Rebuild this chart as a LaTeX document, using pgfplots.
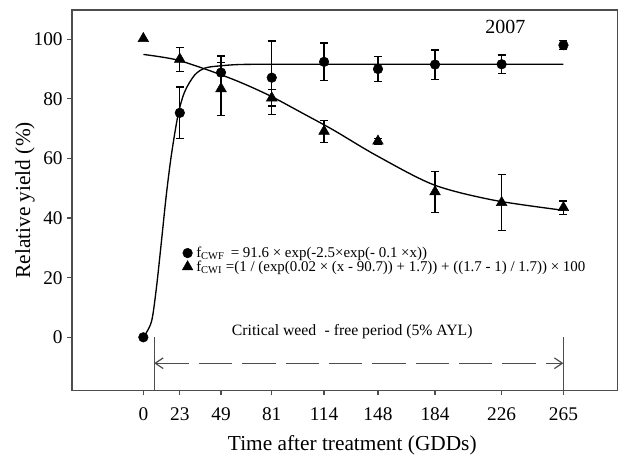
\documentclass[border=0pt]{standalone}
\usepackage{fontspec}
\setmainfont{Liberation Serif}
\usepackage{pgfplots}
\usepackage{pgfplotstable}
\pgfplotsset{compat=1.18}
\usetikzlibrary{arrows.meta}

% weed-free (CWF) and weed-infested (CWI) relative yield, with error
\pgfplotstableread{
x    y     e
0    0.0   0
23   75.3  8.7
49   88.8  5.6
81   87.1  12.3
114  92.4  6.3
148  90.0  4.2
184  91.5  4.9
226  91.6  3.1
265  98.0  1.5
}\cwf

\pgfplotstableread{
x    y     e
23   93.3  4.0
49   83.4  8.9
81   80.3  2.7
114  69.1  3.7
148  65.8  1.0
184  48.8  6.9
226  45.2  9.4
265  43.5  2.2
}\cwi

\definecolor{axisgray}{HTML}{4D4D4D}

\begin{document}
\begin{tikzpicture}
\useasboundingbox (-54pt,-49.7pt) rectangle (414pt,293pt);
\begin{axis}[
    scale only axis,
    width=409pt,
    height=285.5pt,
    xmin=-45, xmax=299,
    ymin=-17.9, ymax=109.8,
    xtick={0,23,49,81,114,148,184,226,265},
    ytick={0,20,40,60,80,100},
    xtick pos=bottom, ytick pos=left,
    tick align=outside,
    major tick length=3.5pt,
    axis line style={draw=axisgray, line width=1.1pt},
    tick style={draw=axisgray, line width=0.9pt},
    /pgf/number format/assume math mode=true,
    tick label style={font=\fontsize{14.5}{16}\selectfont},
    xticklabel style={yshift=-6pt},
    xlabel={Time after treatment (GDDs)},
    ylabel={Relative yield (\%)},
    every axis x label/.style={at={(axis description cs:0.514,-0.1426)}, anchor=center,
        font=\fontsize{16}{18}\selectfont},
    every axis y label/.style={at={(axis description cs:-0.0862,0.5)}, rotate=90, anchor=center,
        font=\fontsize{16}{18}\selectfont},
    legend style={
        at={(axis description cs:0.2017,0.3433)}, anchor=west,
        draw=none, fill=none, inner sep=0pt,
        font=\fontsize{11.2}{13}\selectfont,
        row sep=0pt,
        nodes={inner sep=0.5pt},
        /tikz/every odd column/.append style={column sep=2pt},
    },
    legend cell align=left,
    legend image code/.code={
        \path (0pt,0pt) (7.6pt,0pt);
        \draw[#1] plot coordinates {(3.8pt,0pt)};
    },
    error bars/error bar style={line width=0.9pt, black},
    error bars/error mark options={rotate=90, mark size=3pt, line width=0.9pt, black},
]

% fitted curves
\addplot[black, line width=1pt, smooth, forget plot] coordinates {
    (0,0) (5.1,5.2) (8.2,16.4) (11.4,32.1) (14.5,47.8) (17.7,61.2)
    (21.9,74.6) (26.1,82.4) (32.4,88.0) (38.8,90.3) (47.2,91.0)
    (60,91.5) (80,91.6) (120,91.6) (180,91.6) (265,91.6)
};
\addplot[black, line width=1pt, smooth, forget plot] coordinates {
    (0,94.9) (20,93.2) (40,89.8) (60,85.8) (80,81.0) (100,75.3)
    (120,69.5) (147,61.0) (183,51.2) (221,46.0) (265,42.6)
};

\addplot[only marks, mark=*, mark size=3.6pt, black,
    error bars/.cd, y dir=both, y explicit]
    table[x=x, y=y, y error=e] {\cwf};
\addlegendentry{f\textsubscript{CWF} \,= 91.6 × exp(-2.5×exp(- 0.1 ×x))}

\addplot[only marks, mark=triangle*, mark size=4.6pt, black,
    error bars/.cd, y dir=both, y explicit]
    table[x=x, y=y, y error=e] {\cwi};
\addlegendentry{f\textsubscript{CWI} =(1 / (exp(0.02 × (x - 90.7)) + 1.7)) + ((1.7 - 1) / 1.7)) × 100}

\addplot[only marks, mark=triangle*, mark size=4.6pt, black, forget plot]
    coordinates {(0,100.2)};

% critical period marker
\addplot[axisgray, line width=0.9pt, forget plot] coordinates {(6.8,0) (6.8,-17.9)};
\addplot[axisgray, line width=0.9pt, forget plot] coordinates {(265,0) (265,-17.9)};
\addplot[axisgray, line width=0.9pt, dash pattern=on 25pt off 7.5pt,
    {Straight Barb[length=6pt,width=8pt]}-{Straight Barb[length=6pt,width=8pt]}, forget plot]
    coordinates {(6.8,-8.7) (265,-8.7)};

\node[font=\fontsize{11.8}{14}\selectfont] at (axis cs:131.8,1.9)
    {Critical weed \;- free period (5\% AYL)};
\node[font=\fontsize{15}{17}\selectfont] at (axis cs:228.3,104.2) {2007};

\end{axis}
\end{tikzpicture}
\end{document}
